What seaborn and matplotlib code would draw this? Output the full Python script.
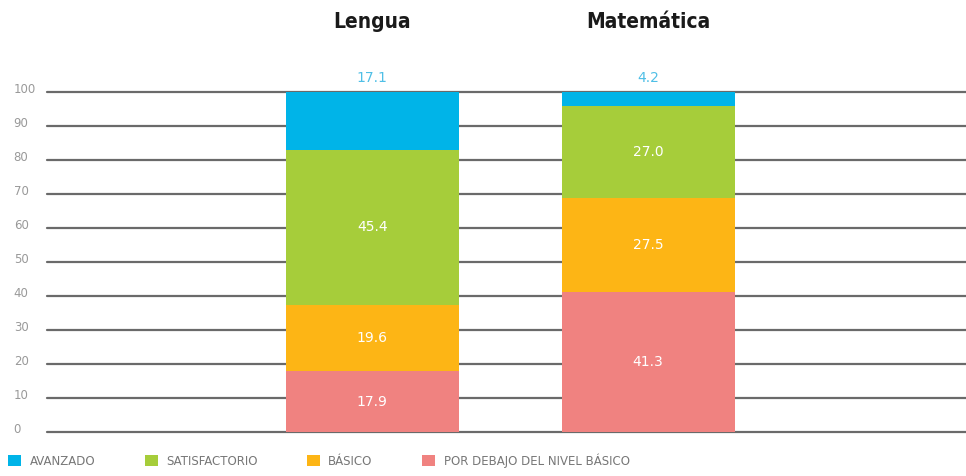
import numpy as np
import pandas as pd
import seaborn as sns
from matplotlib import pyplot as plt
from matplotlib import transforms
from matplotlib.patches import Patch

# data
subjects = ['Lengua', 'Matemática']
levels = ['POR DEBAJO DEL NIVEL BÁSICO', 'BÁSICO', 'SATISFACTORIO', 'AVANZADO']
values = {
    'POR DEBAJO DEL NIVEL BÁSICO': [17.9, 41.3],
    'BÁSICO': [19.6, 27.5],
    'SATISFACTORIO': [45.4, 27.0],
    'AVANZADO': [17.1, 4.2],
}
colors = {
    'AVANZADO': '#00b4e8',
    'SATISFACTORIO': '#a6cd3a',
    'BÁSICO': '#fdb515',
    'POR DEBAJO DEL NIVEL BÁSICO': '#f08280',
}
legend_order = ['AVANZADO', 'SATISFACTORIO', 'BÁSICO', 'POR DEBAJO DEL NIVEL BÁSICO']
yticks = [0, 10, 20, 30, 40, 50, 60, 70, 80, 90, 100]

sns.set_theme(style='white')
plt.rcParams['font.family'] = ['Liberation Sans Narrow', 'DejaVu Sans']

df = pd.DataFrame(values, index=subjects)
cum = df[levels].cumsum(axis=1)

fig = plt.figure(figsize=(9.66, 4.76), dpi=100)
ax = fig.add_axes([0.0487, 0.0924, 0.9513, 0.7143])

# grid lines behind the bars
for t in yticks:
    ax.axhline(t, color='#6a6a6a', lw=1.6, zorder=0, clip_on=False)

# stacked bars: draw cumulative totals from the top down
for lvl in reversed(levels):
    d = pd.DataFrame({'subject': subjects, 'total': cum[lvl].values})
    sns.barplot(d, x='subject', y='total', color=colors[lvl], width=0.627,
                saturation=1, ax=ax, zorder=2, order=subjects, linewidth=0)

# labels
for i, s in enumerate(subjects):
    base = 0
    for lvl in levels:
        v = df.loc[s, lvl]
        if lvl == 'AVANZADO':
            ax.text(i, 104, f'{v:.1f}', ha='center', va='center',
                    color='#4fbfe6', fontsize=10, zorder=5, clip_on=False)
        else:
            ax.text(i, base + v / 2, f'{v:.1f}', ha='center', va='center',
                    color='white', fontsize=10, zorder=5)
        base += v
    ax.text(i, 120.5, s, ha='center', va='center', fontsize=15,
            fontweight='bold', fontstretch='condensed', color='#1a1a1a',
            clip_on=False)

ax.set_xlim(-1.178, 2.152)
ax.set_ylim(0, 100)
ax.set_yticks(yticks)
ax.set_yticklabels([str(t) for t in yticks], ha='left', color='#999999', fontsize=8.5)
ax.tick_params(axis='y', length=0, pad=24)
shift = transforms.ScaledTranslation(0, 4 / 100, fig.dpi_scale_trans)
for lbl in ax.get_yticklabels():
    lbl.set_transform(lbl.get_transform() + shift)
ax.set_xticks([])
ax.set_xlabel('')
ax.set_ylabel('')
for sp in ax.spines.values():
    sp.set_visible(False)

handles = [Patch(facecolor=colors[l], edgecolor='none') for l in legend_order]
fig.legend(handles, legend_order, loc='lower left', bbox_to_anchor=(0.0, 0.0),
           ncol=4, frameon=False, fontsize=8.5, labelcolor='#777777',
           handlelength=1.1, handleheight=1.1, handletextpad=0.7,
           columnspacing=4.2, borderaxespad=0.3)

fig.savefig('out.png', dpi=100)
